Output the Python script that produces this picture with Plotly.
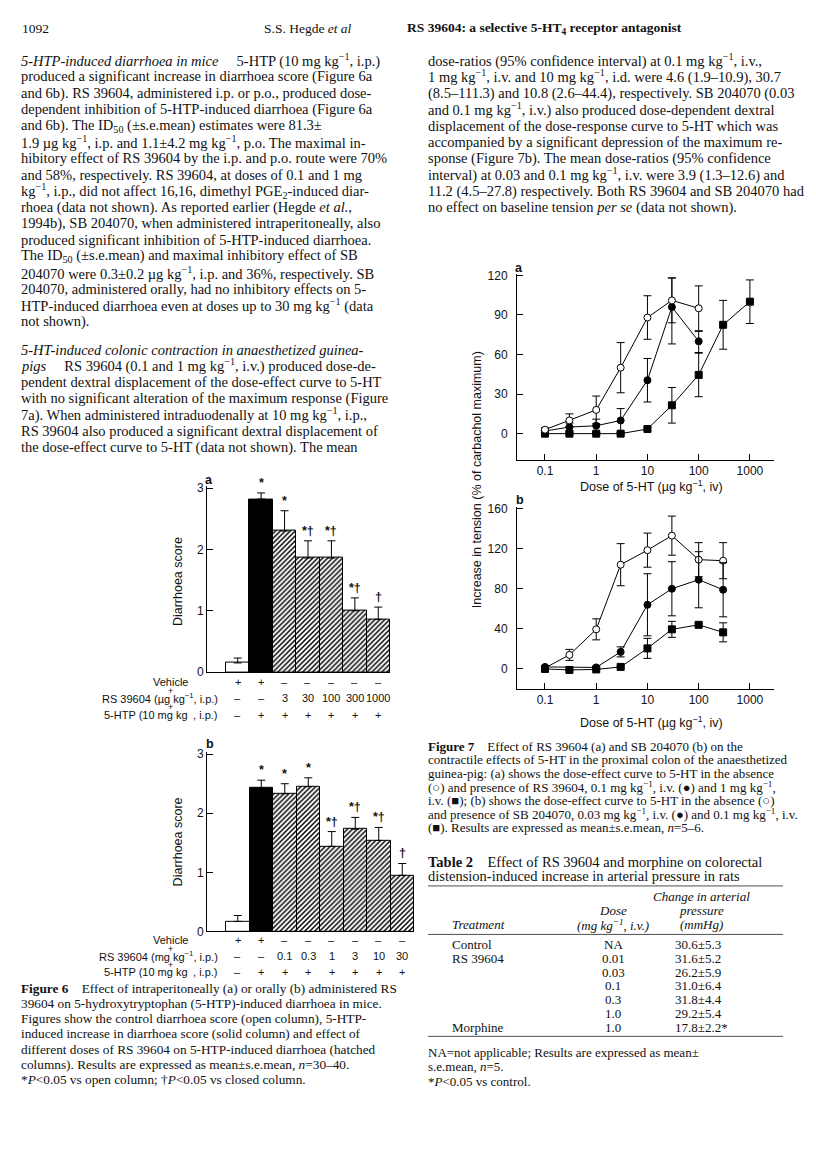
import plotly.graph_objects as go

W, H = 816, 1166

def X(px):
    return px / W

def Y(py):
    return 1 - py / H

# ---------------- DATA ----------------
# Figure 6a (i.p.)
f6a_groups = ["Vehicle", "5-HTP", "3", "30", "100", "300", "1000"]
f6a_score = [0.15, 2.82, 2.30, 1.86, 1.86, 1.00, 0.86]
f6a_sem = [0.08, 0.10, 0.33, 0.28, 0.28, 0.21, 0.20]
f6a_sig = ["", "*", "*", "*†", "*†", "*†", "†"]
f6a_row_vehicle = ["+", "+", "–", "–", "–", "–", "–"]
f6a_row_rs = ["–", "–", "3", "30", "100", "300", "1000"]
f6a_row_htp = ["–", "+", "+", "+", "+", "+", "+"]

# Figure 6b (p.o.)
f6b_groups = ["Vehicle", "5-HTP", "0.1", "0.3", "1", "3", "10", "30"]
f6b_score = [0.17, 2.43, 2.33, 2.45, 1.44, 1.73, 1.54, 0.95]
f6b_sem = [0.10, 0.13, 0.17, 0.15, 0.25, 0.20, 0.22, 0.20]
f6b_sig = ["", "*", "*", "*", "*†", "*†", "*†", "†"]
f6b_row_vehicle = ["+", "+", "–", "–", "–", "–", "–", "–"]
f6b_row_rs = ["–", "–", "0.1", "0.3", "1", "3", "10", "30"]
f6b_row_htp = ["–", "+", "+", "+", "+", "+", "+", "+"]

# Figure 7a
f7a_ctrl_dose = [0.1, 0.3, 1, 3, 10, 30, 100]
f7a_ctrl = [3, 10, 18, 50, 88, 101, 95]
f7a_ctrl_sem = [1.5, 5, 10.5, 19, 16.5, 17, 17]
f7a_low_dose = [0.1, 0.3, 1, 3, 10, 30, 100]
f7a_low = [2, 5, 6, 10, 40.5, 96, 70]
f7a_low_sem_up = [1, 3, 5, 9, 16.5, 22, 7.5]
f7a_low_sem_dn = [1, 3, 5, 9, 16.5, 28, 8.5]
f7a_high_dose = [0.1, 0.3, 1, 3, 10, 30, 100, 300, 1000]
f7a_high = [0, 0, 0, 0, 3.5, 21.5, 44.5, 82.5, 100]
f7a_high_sem = [0.8, 0.8, 0.8, 0.8, 1.2, 13.5, 16.5, 18.5, 16.5]

# Figure 7b
f7b_ctrl_dose = [0.1, 0.3, 1, 3, 10, 30, 100, 300]
f7b_ctrl = [1, 14, 39.5, 104, 118.5, 133, 109, 108]
f7b_ctrl_sem = [1, 5.5, 10.5, 21, 17, 19.5, 17, 18]
f7b_low_dose = [0.1, 1, 3, 10, 30, 100, 300]
f7b_low = [2, 1.5, 17, 64, 80, 89, 79]
f7b_low_sem = [1, 1, 5, 31, 27, 28, 27]
f7b_high_dose = [0.1, 0.3, 1, 3, 10, 30, 100, 300]
f7b_high = [0, -1, -0.5, 2, 20.5, 39.5, 44, 36.5]
f7b_high_sem = [0.5, 0.5, 0.5, 1, 10, 8, 1.5, 9.5]

log_ticks = [0.1, 1, 10, 100, 1000]
log_ticktext = ["0.1", "1", "10", "100", "1000"]

# Table 2
t2_treatment = ["Control", "RS 39604", "", "", "", "", "Morphine"]
t2_dose = ["NA", "0.01", "0.03", "0.1", "0.3", "1.0", "1.0"]
t2_change = ["30.6±5.3", "31.6±5.2", "26.2±5.9", "31.0±6.4", "31.8±4.4", "29.2±5.4", "17.8±2.2*"]

# ---------------- TEXT ----------------
SERIF = "Liberation Serif"
SANS = "Liberation Sans"
SUP = "<sup>−1</sup>"

left_p1 = [
    "<i>5-HTP-induced diarrhoea in mice</i>\u2003 5-HTP (10 mg kg" + SUP + ", i.p.)",
    "produced a significant increase in diarrhoea score (Figure 6a",
    "and 6b). RS 39604, administered i.p. or p.o., produced dose-",
    "dependent inhibition of 5-HTP-induced diarrhoea (Figure 6a",
    "and 6b). The ID<sub>50</sub> (±s.e.mean) estimates were 81.3±",
    "1.9 µg kg" + SUP + ", i.p. and 1.1±4.2 mg kg" + SUP + ", p.o. The maximal in-",
    "hibitory effect of RS 39604 by the i.p. and p.o. route were 70%",
    "and 58%, respectively. RS 39604, at doses of 0.1 and 1 mg",
    "kg" + SUP + ", i.p., did not affect 16,16, dimethyl PGE<sub>2</sub>-induced diar-",
    "rhoea (data not shown). As reported earlier (Hegde <i>et al.</i>,",
    "1994b), SB 204070, when administered intraperitoneally, also",
    "produced significant inhibition of 5-HTP-induced diarrhoea.",
    "The ID<sub>50</sub> (±s.e.mean) and maximal inhibitory effect of SB",
    "204070 were 0.3±0.2 µg kg" + SUP + ", i.p. and 36%, respectively. SB",
    "204070, administered orally, had no inhibitory effects on 5-",
    "HTP-induced diarrhoea even at doses up to 30 mg kg" + SUP + " (data",
    "not shown).",
]
left_p2 = [
    "<i>5-HT-induced colonic contraction in anaesthetized guinea-</i>",
    "<i>pigs</i>\u2003 RS 39604 (0.1 and 1 mg kg" + SUP + ", i.v.) produced dose-de-",
    "pendent dextral displacement of the dose-effect curve to 5-HT",
    "with no significant alteration of the maximum response (Figure",
    "7a). When administered intraduodenally at 10 mg kg" + SUP + ", i.p.,",
    "RS 39604 also produced a significant dextral displacement of",
    "the dose-effect curve to 5-HT (data not shown). The mean",
]
right_p = [
    "dose-ratios (95% confidence interval) at 0.1 mg kg" + SUP + ", i.v.,",
    "1 mg kg" + SUP + ", i.v. and 10 mg kg" + SUP + ", i.d. were 4.6 (1.9–10.9), 30.7",
    "(8.5–111.3) and 10.8 (2.6–44.4), respectively. SB 204070 (0.03",
    "and 0.1 mg kg" + SUP + ", i.v.) also produced dose-dependent dextral",
    "displacement of the dose-response curve to 5-HT which was",
    "accompanied by a significant depression of the maximum re-",
    "sponse (Figure 7b). The mean dose-ratios (95% confidence",
    "interval) at 0.03 and 0.1 mg kg" + SUP + ", i.v. were 3.9 (1.3–12.6) and",
    "11.2 (4.5–27.8) respectively. Both RS 39604 and SB 204070 had",
    "no effect on baseline tension <i>per se</i> (data not shown).",
]
cap6 = [
    "<b>Figure 6</b>\u2003Effect of intraperitoneally (a) or orally (b) administered RS",
    "39604 on 5-hydroxytryptophan (5-HTP)-induced diarrhoea in mice.",
    "Figures show the control diarrhoea score (open column), 5-HTP-",
    "induced increase in diarrhoea score (solid column) and effect of",
    "different doses of RS 39604 on 5-HTP-induced diarrhoea (hatched",
    "columns). Results are expressed as mean±s.e.mean, <i>n</i>=30–40.",
    "*<i>P</i>&lt;0.05 vs open column; †<i>P</i>&lt;0.05 vs closed column.",
]
cap7 = [
    "<b>Figure 7</b>\u2003Effect of RS 39604 (a) and SB 204070 (b) on the",
    "contractile effects of 5-HT in the proximal colon of the anaesthetized",
    "guinea-pig: (a) shows the dose-effect curve to 5-HT in the absence",
    "(○) and presence of RS 39604, 0.1 mg kg" + SUP + ", i.v. (●) and 1 mg kg" + SUP + ",",
    "i.v. (■); (b) shows the dose-effect curve to 5-HT in the absence (○)",
    "and presence of SB 204070, 0.03 mg kg" + SUP + ", i.v. (●) and 0.1 mg kg" + SUP + ", i.v.",
    "(■). Results are expressed as mean±s.e.mean, <i>n</i>=5–6.",
]

fig = go.Figure()

# ---------------- Figure 6 bars ----------------
def bar_traces(scores, sems, xa, ya):
    n = len(scores)
    err = dict(type="data", symmetric=False, color="black", thickness=1, width=4)
    plain = go.Bar(
        x=[0, 1], y=scores[:2], width=1,
        marker=dict(color=["white", "black"], line=dict(color="black", width=1)),
        error_y=dict(array=sems[:2], arrayminus=[0, 0], **err),
        xaxis=xa, yaxis=ya, showlegend=False, hoverinfo="skip")
    hatched = go.Bar(
        x=list(range(2, n)), y=scores[2:], width=1,
        marker=dict(color="white", line=dict(color="black", width=1),
                    pattern=dict(shape="/", fgcolor="black", bgcolor="white",
                                 size=3.5, solidity=0.42, fillmode="replace")),
        error_y=dict(array=sems[2:], arrayminus=[0] * (n - 2), **err),
        xaxis=xa, yaxis=ya, showlegend=False, hoverinfo="skip")
    return [plain, hatched]

for t in bar_traces(f6a_score, f6a_sem, "x", "y"):
    fig.add_trace(t)
for t in bar_traces(f6b_score, f6b_sem, "x2", "y2"):
    fig.add_trace(t)

# ---------------- Figure 7 curves ----------------
def curve(xs, ys, up, dn, style, xa, ya):
    if style == "open":
        m = dict(symbol="circle", size=7, color="white", line=dict(color="black", width=1))
    elif style == "filled":
        m = dict(symbol="circle", size=7, color="black", line=dict(color="black", width=1))
    else:
        m = dict(symbol="square", size=7, color="black", line=dict(color="black", width=1))
    return go.Scatter(
        x=xs, y=ys, mode="lines+markers", marker=m,
        line=dict(color="black", width=1),
        error_y=dict(type="data", symmetric=False, array=up, arrayminus=dn,
                     color="black", thickness=1, width=4),
        xaxis=xa, yaxis=ya, showlegend=False, hoverinfo="skip")

fig.add_trace(curve(f7a_high_dose, f7a_high, f7a_high_sem, f7a_high_sem, "square", "x3", "y3"))
fig.add_trace(curve(f7a_low_dose, f7a_low, f7a_low_sem_up, f7a_low_sem_dn, "filled", "x3", "y3"))
fig.add_trace(curve(f7a_ctrl_dose, f7a_ctrl, f7a_ctrl_sem, f7a_ctrl_sem, "open", "x3", "y3"))

fig.add_trace(curve(f7b_ctrl_dose, f7b_ctrl, f7b_ctrl_sem, f7b_ctrl_sem, "open", "x4", "y4"))
fig.add_trace(curve(f7b_high_dose, f7b_high, f7b_high_sem, f7b_high_sem, "square", "x4", "y4"))
fig.add_trace(curve(f7b_low_dose, f7b_low, f7b_low_sem, f7b_low_sem, "filled", "x4", "y4"))

tickfont = dict(family=SANS, size=12, color="#111")
base = dict(showline=True, linecolor="black", linewidth=1, showgrid=False,
            zeroline=False, tickfont=tickfont)
yticks = dict(ticks="inside", ticklen=6, tickwidth=1, tickcolor="black")

layout = dict(
    width=W, height=H, autosize=False,
    margin=dict(l=0, r=0, t=0, b=0),
    paper_bgcolor="white", plot_bgcolor="rgba(0,0,0,0)",
    bargap=0, barmode="overlay", showlegend=False,
    xaxis=dict(domain=[X(199), X(382)], range=[-1.31, 6.5], anchor="y",
               showticklabels=False, ticks="", **base),
    yaxis=dict(domain=[Y(666), Y(477.5)], range=[0, 3.04], anchor="x",
               tickvals=[0, 1, 2, 3], **yticks, **base),
    xaxis2=dict(domain=[X(199), X(406)], range=[-1.31, 7.5], anchor="y2",
                showticklabels=False, ticks="", **base),
    yaxis2=dict(domain=[Y(928), Y(746.5)], range=[0, 3.04], anchor="x2",
                tickvals=[0, 1, 2, 3], **yticks, **base),
    xaxis3=dict(domain=[X(509), X(766)], type="log", range=[-1.546, 3.47], anchor="y3",
                tickvals=log_ticks, ticktext=log_ticktext, **yticks, **base),
    yaxis3=dict(domain=[Y(451.7), Y(263.7)], range=[-20, 121], anchor="x3",
                tickvals=[0, 30, 60, 90, 120], ticklabelstandoff=6, **yticks, **base),
    xaxis4=dict(domain=[X(509), X(766)], type="log", range=[-1.546, 3.47], anchor="y4",
                tickvals=log_ticks, ticktext=log_ticktext, **yticks, **base),
    yaxis4=dict(domain=[Y(683), Y(499)], range=[-20, 161.7], anchor="x4",
                tickvals=[0, 40, 80, 120, 160], ticklabelstandoff=6, **yticks, **base),
)
fig.update_layout(**layout)

ann = []

def txt(px, py, text, size=13, family=SERIF, xanchor="left", angle=0, color="#111"):
    ann.append(dict(x=X(px), y=Y(py), xref="paper", yref="paper", text=text,
                    showarrow=False, xanchor=xanchor, yanchor="middle", textangle=angle,
                    borderpad=0, font=dict(family=family, size=size, color=color)))

# header
txt(13, 16, "1092", size=13.5)
txt(300, 16, "S.S. Hegde <i>et al</i>", size=13.5, xanchor="center")
txt(398, 16, "<b>RS 39604: a selective 5-HT<sub>4</sub> receptor antagonist</b>", size=13.5)

# body text
for i, line in enumerate(left_p1):
    txt(12, 48 + 16.5 * i, line, size=14.5)
for i, line in enumerate(left_p2):
    txt(12, 340 + 16.5 * i, line, size=14.5)
for i, line in enumerate(right_p):
    txt(419, 48 + 16.5 * i, line, size=14.5)
for i, line in enumerate(cap6):
    txt(12, 986 + 15.2 * i, line, size=13.3)
for i, line in enumerate(cap7):
    txt(419, 741 + 13.7 * i, line, size=13)

# Figure 6 labels
txt(201, 472, "<b>a</b>", size=12.5, family=SANS, xanchor="center")
txt(202, 739, "<b>b</b>", size=12.5, family=SANS, xanchor="center")
txt(170, 575, "Diarrhoea score", size=12.5, family=SANS, xanchor="center", angle=-90)
txt(170, 838, "Diarrhoea score", size=12.5, family=SANS, xanchor="center", angle=-90)

def sig_ann(scores, sems, sig, xr, yr):
    for i, s in enumerate(sig):
        if s:
            ann.append(dict(x=i, y=scores[i] + sems[i], xref=xr, yref=yr, text="<b>" + s + "</b>",
                            showarrow=False, yanchor="bottom", yshift=2, borderpad=0,
                            font=dict(family=SANS, size=12.5, color="#111")))

sig_ann(f6a_score, f6a_sem, f6a_sig, "x", "y")
sig_ann(f6b_score, f6b_sem, f6b_sig, "x2", "y2")

def rows(xr, rv, rr, rh, ys, rs_label):
    for i in range(len(rv)):
        for val, yy in zip((rv[i], rr[i], rh[i]), ys):
            ann.append(dict(x=i, y=Y(yy), xref=xr, yref="paper", text=val, showarrow=False,
                            yanchor="middle", borderpad=0,
                            font=dict(family=SANS, size=11, color="#111")))
    txt(162, ys[0], "Vehicle", size=11, family=SANS, xanchor="center")
    txt(162, (ys[0] + ys[1]) / 2 + 1, "+", size=9, family=SANS, xanchor="center")
    txt(211, ys[1], rs_label, size=11, family=SANS, xanchor="right")
    txt(162, (ys[1] + ys[2]) / 2 + 1, "+", size=9, family=SANS, xanchor="center")
    txt(211, ys[2], "5-HTP (10 mg kg\u2002, i.p.)", size=11, family=SANS, xanchor="right")

rows("x", f6a_row_vehicle, f6a_row_rs, f6a_row_htp, (676, 692, 709), "RS 39604 (µg kg" + SUP + ", i.p.)")
rows("x2", f6b_row_vehicle, f6b_row_rs, f6b_row_htp, (937, 953, 969), "RS 39604 (mg kg" + SUP + ", i.p.)")

# Figure 7 labels
txt(511, 258, "<b>a</b>", size=12.5, family=SANS, xanchor="center")
txt(512, 492, "<b>b</b>", size=12.5, family=SANS, xanchor="center")
txt(643, 478, "Dose of 5-HT (µg kg" + SUP + ", iv)", size=12.5, family=SANS, xanchor="center")
txt(643, 716, "Dose of 5-HT (µg kg" + SUP + ", iv)", size=12.5, family=SANS, xanchor="center")
txt(469, 471, "Increase in tension (% of carbachol maximum)", size=12.5, family=SANS,
    xanchor="center", angle=-90)

# Table 2
txt(419, 858, "<b>Table 2</b>\u2003Effect of RS 39604 and morphine on colorectal", size=14.5)
txt(419, 872, "distension-induced increase in arterial pressure in rats", size=14.5)
txt(693, 893, "<i>Change in arterial</i>", size=13, xanchor="center")
txt(605, 907, "<i>Dose</i>", size=13, xanchor="center")
txt(693, 907, "<i>pressure</i>", size=13, xanchor="center")
txt(443, 921, "<i>Treatment</i>", size=13)
txt(605, 921, "<i>(mg kg" + SUP + ", i.v.)</i>", size=13, xanchor="center")
txt(693, 921, "<i>(mmHg)</i>", size=13, xanchor="center")
for i in range(len(t2_dose)):
    yy = 941 + 14 * i
    if t2_treatment[i]:
        txt(443, yy, t2_treatment[i], size=13)
    txt(605, yy, t2_dose[i], size=13, xanchor="center")
    txt(666, yy, t2_change[i], size=13)
txt(419, 1050, "NA=not applicable; Results are expressed as mean±", size=13)
txt(419, 1064, "s.e.mean, <i>n</i>=5.", size=13)
txt(419, 1080, "*<i>P</i>&lt;0.05 vs control.", size=13)

shapes = []
for yy in (882, 931, 1034):
    shapes.append(dict(type="line", xref="paper", yref="paper", x0=X(420), x1=X(775),
                       y0=Y(yy), y1=Y(yy), line=dict(color="#222", width=0.8)))

fig.update_layout(annotations=ann, shapes=shapes)
fig.write_html("out.html")
